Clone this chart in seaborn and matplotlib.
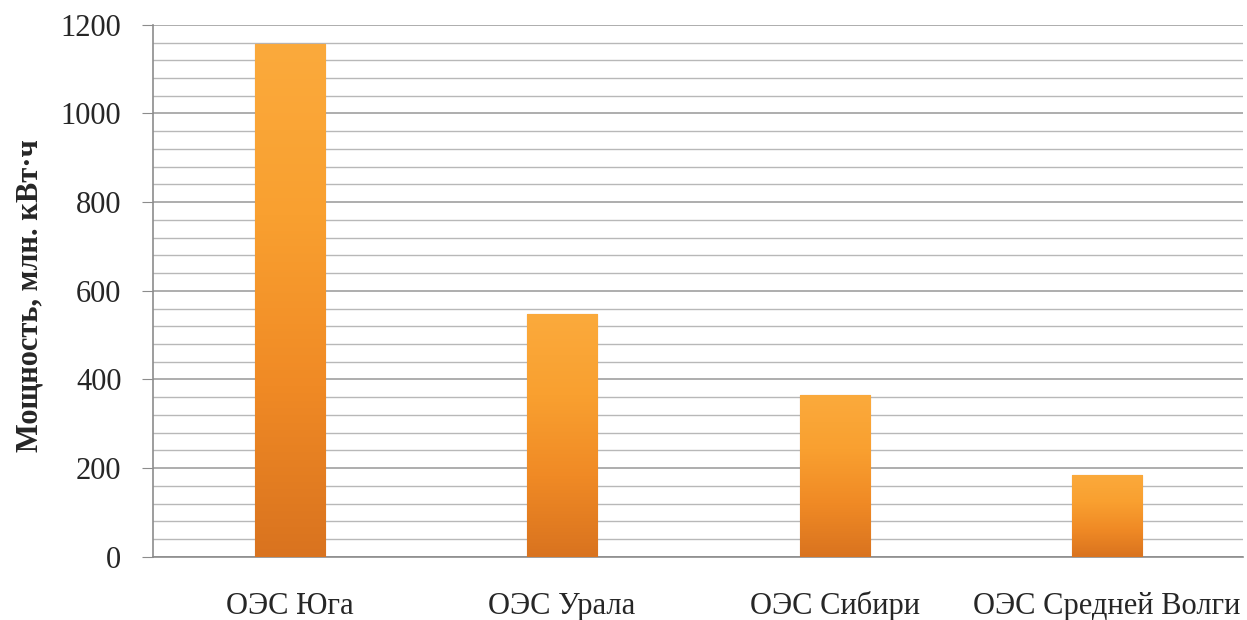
import numpy as np
import pandas as pd
import matplotlib
matplotlib.use("Agg")
import matplotlib.pyplot as plt
import seaborn as sns
from matplotlib.colors import LinearSegmentedColormap
from matplotlib.ticker import MultipleLocator

# data
regions = ['ОЭС Юга', 'ОЭС Урала', 'ОЭС Сибири', 'ОЭС Средней Волги']
power = [1157, 548, 365, 185]

df = pd.DataFrame({'region': regions, 'power': power})

sns.set_style("white")
plt.rcParams['font.family'] = ['Liberation Serif', 'DejaVu Serif']

fig, ax = plt.subplots(figsize=(12.47, 6.2), dpi=100)
fig.subplots_adjust(left=0.123, right=0.997, top=0.96, bottom=0.102)

sns.barplot(data=df, x='region', y='power', color='#F39328', width=0.257,
            edgecolor='#B8611C', linewidth=0.8, ax=ax, zorder=3)

# vertical shading on each bar (light top, darker bottom)
cmap = LinearSegmentedColormap.from_list('bar', ['#D9731F', '#F08A25', '#F9A030', '#FBAA3C'])
grad = np.linspace(0, 1, 256).reshape(-1, 1)
for p in ax.patches:
    x0, y0 = p.get_x(), p.get_y()
    w, h = p.get_width(), p.get_height()
    im = ax.imshow(grad, cmap=cmap, origin='lower', aspect='auto',
                   extent=(x0, x0 + w, y0, y0 + h), zorder=3.5)
    im.set_clip_path(p)

ax.set_xlim(-0.5, len(regions) - 0.5)
ax.set_ylim(0, 1200)
ax.yaxis.set_major_locator(MultipleLocator(200))
ax.yaxis.set_minor_locator(MultipleLocator(40))
ax.grid(axis='y', which='major', color='#A0A0A0', linewidth=1.2, zorder=0)
ax.grid(axis='y', which='minor', color='#B8B8B8', linewidth=1.0, zorder=0)
ax.set_axisbelow(True)

for s in ['top', 'right']:
    ax.spines[s].set_visible(False)
ax.spines['left'].set_color('#8C8C8C')
ax.spines['bottom'].set_color('#8C8C8C')
ax.spines['left'].set_linewidth(1.2)
ax.spines['bottom'].set_linewidth(1.2)

ax.tick_params(axis='y', which='major', left=True, length=8, color='#8C8C8C',
               labelsize=22, pad=15)
ax.tick_params(axis='y', which='minor', left=False)
ax.tick_params(axis='x', bottom=False, length=0, labelsize=22, pad=41)
for lab in ax.get_xticklabels():
    lab.set_verticalalignment('baseline')

ax.set_xlabel('')
ax.set_ylabel('Мощность, млн. кВт·ч', fontsize=22, fontweight='bold')
ax.yaxis.label.set_verticalalignment('center')
ax.yaxis.set_label_coords(-0.113, 0.49)

fig.savefig('out.png', dpi=100)
